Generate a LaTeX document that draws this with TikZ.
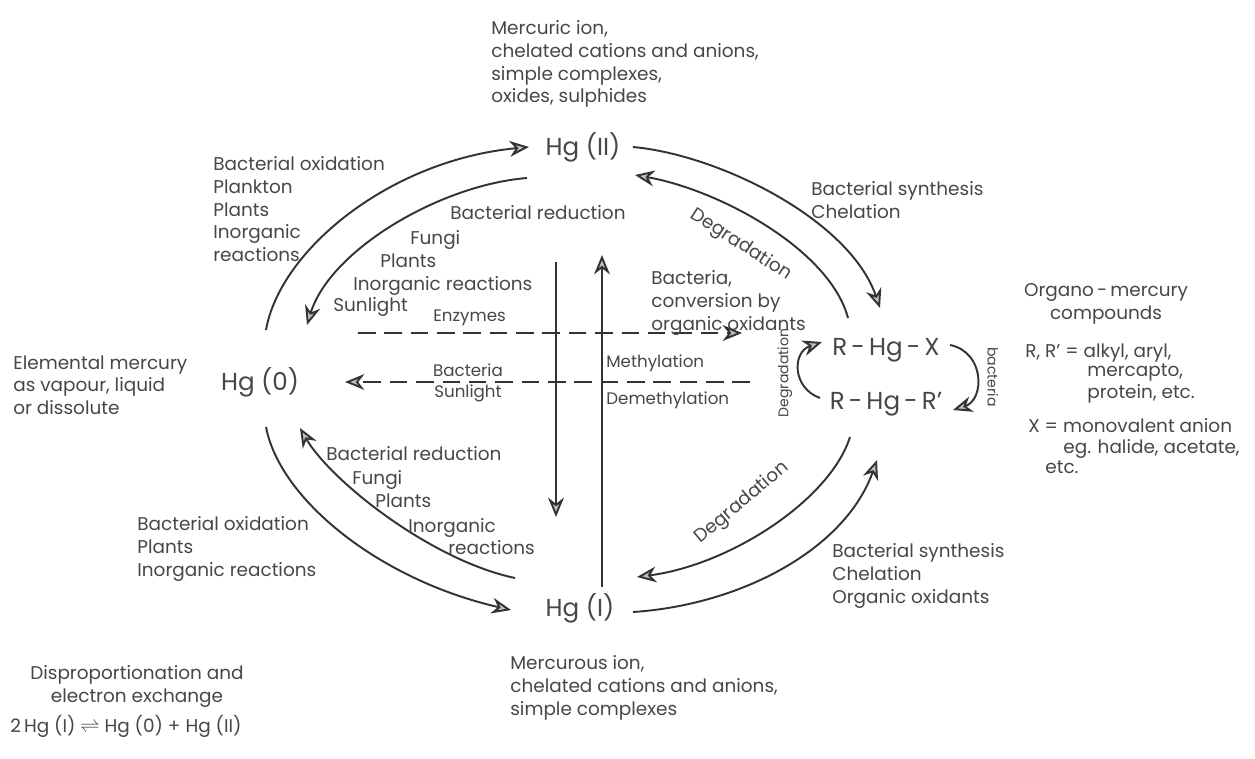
\documentclass[tikz,border=0pt]{standalone}
\usepackage{fontspec}
\setmainfont{Poppins}
\usepackage{tikz}
\usetikzlibrary{arrows.meta}
\definecolor{ink}{HTML}{333333}
\definecolor{txt}{HTML}{474747}
\tikzset{
  flow/.style={draw=ink, line width=1.1pt, -{Stealth[length=11pt,width=9pt,inset=3.5pt,fill=ink!30]}},
  dashflow/.style={flow, dash pattern=on 10pt off 5pt},
  lab/.style={text=txt, font=\fontsize{10.5}{13}\selectfont, inner sep=0pt, align=left, anchor=north west},
  small/.style={text=txt, font=\fontsize{9.5}{11}\selectfont, inner sep=0pt},
  tiny/.style={text=txt, font=\fontsize{8}{9}\selectfont, inner sep=0pt},
  species/.style={text=txt, font=\fontsize{14}{16}\selectfont, inner sep=0pt},
}

\begin{document}
\begin{tikzpicture}[x=0.02cm, y=-0.02cm]
  \useasboundingbox[fill=white] (0,0) rectangle (1255,758);

  % the four oxidation states
  \node[species] (hgII) at (583,147) {Hg (II)};
  \node[species] (hgO) at (260,382) {Hg (0)};
  \node[species] (hgI) at (580,608) {Hg (I)};
  \node[species] (rhgx) at (886,350) {R\,-\,Hg\,-\,X};
  \node[species] (rhgr) at (886,404) {R\,-\,Hg\,-\,R'};

  % arc ends
  \coordinate (otl) at (266,330);  \coordinate (otlE) at (529,147);
  \coordinate (itl) at (527,178);  \coordinate (itlE) at (307,325);
  \coordinate (otr) at (633,147);  \coordinate (otrE) at (880,308);
  \coordinate (itr) at (848,318);  \coordinate (itrE) at (635,175);
  \coordinate (ibr) at (850,437);  \coordinate (ibrE) at (637,577);
  \coordinate (obr) at (633,612);  \coordinate (obrE) at (877,460);
  \coordinate (obl) at (266,427);  \coordinate (oblE) at (511,610);
  \coordinate (ibl) at (515,578);  \coordinate (iblE) at (300,428);

  \draw[flow] (otl) .. controls (280,250) and (390,160) .. (otlE);
  \draw[flow] (itl) .. controls (440,185) and (330,250) .. (itlE);
  \draw[flow] (otr) .. controls (720,155) and (850,220) .. (otrE);
  \draw[flow] (itr) .. controls (830,250) and (720,190) .. (itrE);
  \draw[flow] (ibr) .. controls (830,500) and (730,565) .. (ibrE);
  \draw[flow] (obr) .. controls (740,605) and (845,550) .. (obrE);
  \draw[flow] (obl) .. controls (280,500) and (380,580) .. (oblE);
  \draw[flow] (ibl) .. controls (430,560) and (330,480) .. (iblE);

  % methylation cross
  \coordinate (dtop) at (556,262);  \coordinate (dbot) at (556,517);
  \coordinate (ubot) at (602,587);  \coordinate (utop) at (602,255);
  \coordinate (enzL) at (358,333);  \coordinate (enzR) at (742,333);
  \coordinate (sunR) at (750,382);  \coordinate (sunL) at (345,382);
  \draw[flow] (dtop) -- (dbot);
  \draw[flow] (ubot) -- (utop);
  \draw[dashflow] (enzL) -- (enzR);
  \draw[dashflow] (sunR) -- (sunL);

  % small loops between the organo-mercury forms
  \coordinate (dgS) at (820,398);  \coordinate (dgE) at (822,342);
  \coordinate (bcS) at (950,345);  \coordinate (bcE) at (953,410);
  \draw[flow] (dgS) .. controls (792,388) and (792,352) .. (dgE);
  \draw[flow] (bcS) .. controls (985,352) and (985,400) .. (bcE);

  % labels
  \node[lab] (mercuric) at (491,20) {Mercuric ion,\\chelated cations and anions,\\simple complexes,\\oxides, sulphides};
  \node[lab] (oxidtop) at (213,156) {Bacterial oxidation\\Plankton\\Plants\\Inorganic\\reactions};
  \node[lab, anchor=center] (redtop) at (538,213) {Bacterial reduction};
  \node[lab] (fungitop) at (410,230) {Fungi};
  \node[lab] (plantstop) at (380,253) {Plants};
  \node[lab] (inorgtop) at (353,276) {Inorganic reactions};
  \node[lab] (suntop) at (333,297) {Sunlight};
  \node[small, anchor=west] (enzymes) at (433,318) {Enzymes};
  \node[lab] (bactconv) at (651,270) {Bacteria,\\conversion by\\organic oxidants};
  \node[lab, rotate=-33, anchor=center] (degtop) at (741,245) {Degradation};
  \node[lab] (synthtop) at (811,181) {Bacterial synthesis\\Chelation};
  \node[lab] (elemental) at (13,355) {Elemental mercury\\as vapour, liquid\\or dissolute};
  \node[small, anchor=center] (bactmid) at (468,370) {Bacteria};
  \node[small, anchor=center] (sunmid) at (468,393) {Sunlight};
  \node[small, anchor=west] (methyl) at (606,363) {Methylation};
  \node[small, anchor=west] (demethyl) at (606,400) {Demethylation};
  \node[tiny, rotate=90] (degsmall) at (785,373) {Degradation};
  \node[tiny, rotate=-90] (bactsmall) at (993,377) {bacteria};
  \node[lab, align=center, anchor=north] (organo) at (1106,283) {Organo\,-\,mercury\\compounds};
  \node[lab] (rdef) at (1025,343) {R, R' = alkyl, aryl,};
  \node[lab] (rdefb) at (1087,363) {mercapto,\\protein, etc.};
  \node[lab] (xdef) at (1028,418) {X = monovalent anion};
  \node[lab] (xdefb) at (1063,439) {eg. halide, acetate,};
  \node[lab] (xdefc) at (1045,460) {etc.};
  \node[lab] (redbot) at (326,446) {Bacterial reduction};
  \node[lab] (fungibot) at (352,470) {Fungi};
  \node[lab] (plantsbot) at (375,493) {Plants};
  \node[lab] (inorgbot) at (408,518) {Inorganic};
  \node[lab] (reactbot) at (448,540) {reactions};
  \node[lab] (oxidbot) at (137,516) {Bacterial oxidation\\Plants\\Inorganic reactions};
  \node[lab, rotate=40, anchor=center] (degbot) at (742,503) {Degradation};
  \node[lab] (synthbot) at (832,543) {Bacterial synthesis\\Chelation\\Organic oxidants};
  \node[lab] (mercurous) at (510,655) {Mercurous ion,\\chelated cations and anions,\\simple complexes};
  \node[lab, align=center, anchor=north] (dispro) at (137,665) {Disproportionation and\\electron exchange};
  \node[lab, anchor=west] (equil) at (10,726) {2\,Hg (I) $\rightleftharpoons$ Hg (0) + Hg (II)};
\end{tikzpicture}
\end{document}
